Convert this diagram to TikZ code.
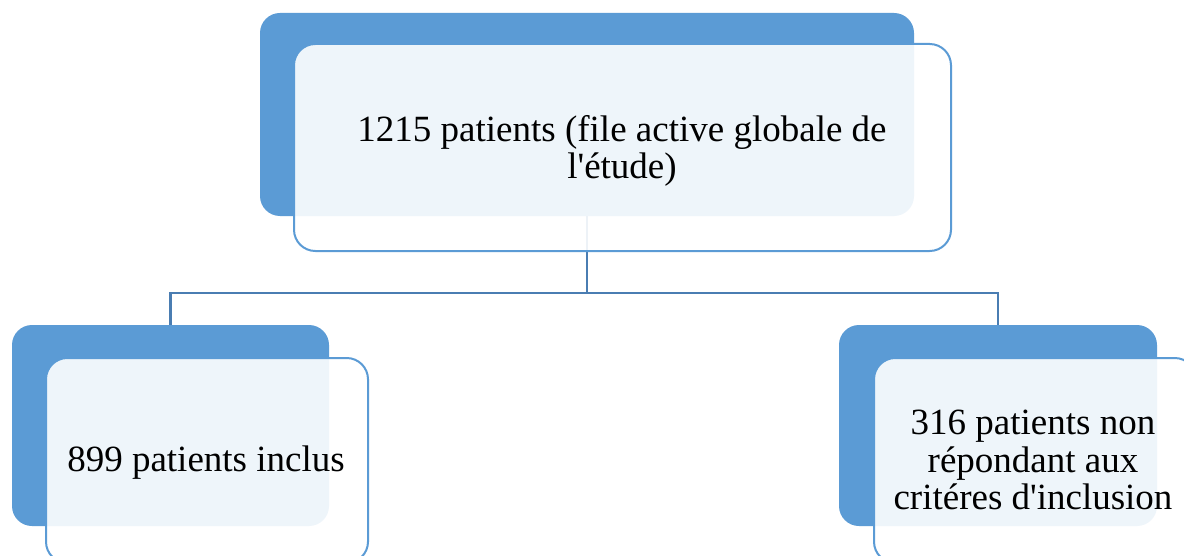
\documentclass[tikz,border=0pt]{standalone}
\usepackage{fontspec}
\setmainfont{Liberation Serif}
\definecolor{accent}{HTML}{5B9BD5}
\definecolor{linkcol}{HTML}{4A7DB2}
\begin{document}
\begin{tikzpicture}[x=0.75pt,y=-0.75pt,
  backbox/.style={rectangle,rounded corners=15pt,fill=accent,draw=none,inner sep=0pt},
  frontbox/.style={rectangle,rounded corners=16pt,fill=white,fill opacity=0.9,draw=accent,draw opacity=1,line width=1.5pt,inner sep=0pt},
  label/.style={inner sep=0pt,align=center,font=\fontsize{27.75}{28.2}\selectfont,text=black},
  link/.style={draw=linkcol,line width=1.6pt}]
\useasboundingbox (0,0) rectangle (1184,556);
\clip (0,0) rectangle (1184,556);
\fill[white] (0,0) rectangle (1184,556);
% back boxes
\node[backbox,minimum width=490.5pt,minimum height=152.25pt] (topback) at (587,114.5) {};
\node[backbox,minimum width=237.75pt,minimum height=150.75pt] (leftback) at (170.5,425.5) {};
\node[backbox,minimum width=238.5pt,minimum height=150.75pt] (rightback) at (998,425.5) {};
% connectors
\coordinate (split) at (587,293);
\draw[link] (topback.south) -- (split) -| (leftback.north);
\draw[link] (split) -| (rightback.north);
% front boxes
\node[frontbox,minimum width=492.75pt,minimum height=155.25pt] (topfront) at (622.5,147.5) {};
\node[frontbox,minimum width=241.5pt,minimum height=153.75pt] (leftfront) at (207,460.5) {};
\node[frontbox,minimum width=241.5pt,minimum height=153.75pt] (rightfront) at (1035,460.5) {};
% labels
\node[label] (toptext) at (622,151) {1215 patients (file active globale de\\l\textquotesingle étude)};
\node[label] (lefttext) at (206,463) {899 patients inclus};
\node[label] (righttext) at (1033,460) {316 patients non\\répondant aux\\critéres d\textquotesingle inclusion};
\end{tikzpicture}
\end{document}
